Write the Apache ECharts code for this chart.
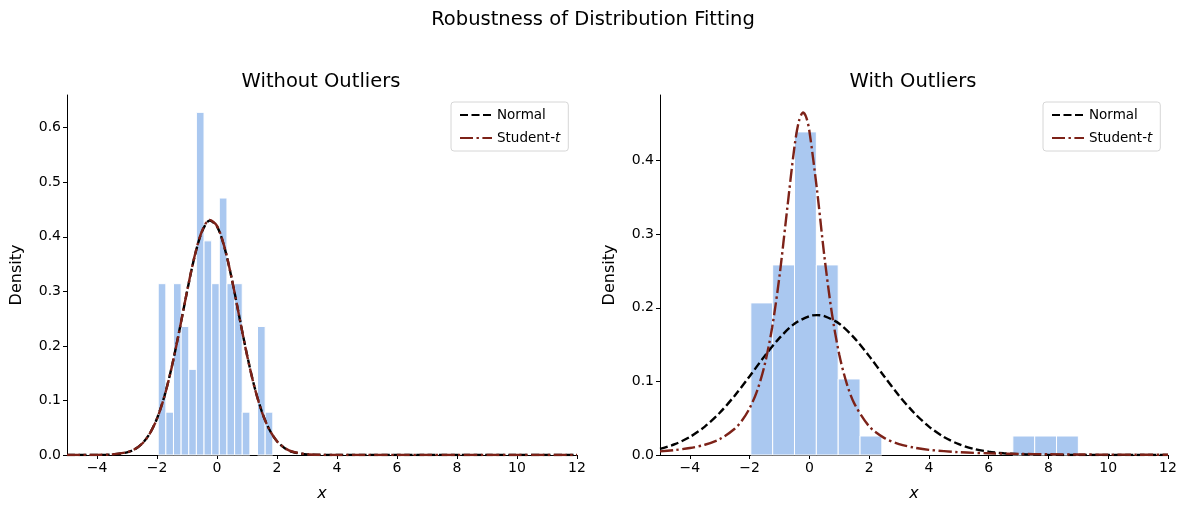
<!DOCTYPE html>
<html>
<head>
<meta charset="utf-8">
<script src="https://cdn.jsdelivr.net/npm/echarts@6/dist/echarts.min.js"></script>
<style>
  html, body { margin: 0; padding: 0; background: #fff; }
  #chart { width: 1186px; height: 513px; }
</style>
</head>
<body>
<div id="chart"></div>
<script>
// histogram bins (edges + density)
var leftEdges = [-1.96, -1.705, -1.451, -1.196, -0.941, -0.687, -0.432, -0.177, 0.077, 0.332, 0.587, 0.841, 1.096, 1.350, 1.605, 1.860];
var leftDensity = [0.3141, 0.0785, 0.3141, 0.2356, 0.1570, 0.6282, 0.3926, 0.3141, 0.4711, 0.3141, 0.3141, 0.0785, 0, 0.2356, 0.0785];
var rightEdges = [-1.96, -1.229, -0.499, 0.232, 0.963, 1.694, 2.424, 3.155, 3.886, 4.616, 5.347, 6.078, 6.808, 7.539, 8.270, 9.000];
var rightDensity = [0.2066, 0.2582, 0.4389, 0.2582, 0.1033, 0.0258, 0, 0, 0, 0, 0, 0, 0.0258, 0.0258, 0.0258];

// fitted curves
var leftCurveX = [-5, -4, -3.5, -3, -2.75, -2.5, -2.25, -2, -1.75, -1.5, -1.25, -1, -0.75, -0.5, -0.25, 0, 0.25, 0.5, 0.75, 1, 1.25, 1.5, 1.75, 2, 2.25, 2.5, 3, 3.5, 4, 5, 6, 7, 8, 9, 10, 11, 12];
var leftNormal = [0, 0.0001, 0.0008, 0.0047, 0.0101, 0.0205, 0.0384, 0.0669, 0.1085, 0.1636, 0.2295, 0.2993, 0.363, 0.4095, 0.4296, 0.4191, 0.3803, 0.3209, 0.2518, 0.1837, 0.1247, 0.0787, 0.0462, 0.0252, 0.0128, 0.006, 0.0011, 0.0001, 0, 0, 0, 0, 0, 0, 0, 0, 0];
var leftStudent = [0.0001, 0.0003, 0.0011, 0.0051, 0.0104, 0.0206, 0.0382, 0.0664, 0.1078, 0.1631, 0.2293, 0.2996, 0.3638, 0.4106, 0.431, 0.4201, 0.381, 0.3211, 0.2516, 0.1831, 0.1241, 0.0783, 0.046, 0.0253, 0.0131, 0.0064, 0.0014, 0.0003, 0.0001, 0, 0, 0, 0, 0, 0, 0, 0];

var rightNormalX = [-5, -4.5, -4, -3.5, -3, -2.5, -2, -1.5, -1, -0.5, 0, 0.25, 0.5, 1, 1.5, 2, 2.5, 3, 3.5, 4, 4.5, 5, 5.5, 6, 6.5, 7, 7.5, 8, 9, 10, 11, 12];
var rightNormal = [0.0083, 0.0147, 0.0245, 0.0386, 0.0574, 0.0806, 0.107, 0.1343, 0.1591, 0.1783, 0.1887, 0.19, 0.1887, 0.1783, 0.1591, 0.1343, 0.107, 0.0806, 0.0574, 0.0386, 0.0245, 0.0147, 0.0083, 0.0045, 0.0023, 0.0011, 0.0005, 0.0002, 0, 0, 0, 0];
var rightStudentX = [-5, -4.5, -4, -3.5, -3, -2.5, -2.25, -2, -1.75, -1.5, -1.25, -1, -0.75, -0.5, -0.35, -0.21, -0.1, 0, 0.25, 0.5, 0.75, 1, 1.25, 1.5, 2, 2.5, 3, 3.5, 4, 5, 6, 7, 8, 9, 10, 11, 12];
var rightStudent = [0.0049, 0.0067, 0.0095, 0.0139, 0.0216, 0.0357, 0.0471, 0.0635, 0.0872, 0.122, 0.1726, 0.2434, 0.3319, 0.4187, 0.4536, 0.4652, 0.458, 0.4398, 0.3615, 0.2702, 0.193, 0.1362, 0.0969, 0.0701, 0.0389, 0.0233, 0.0149, 0.01, 0.007, 0.0038, 0.0023, 0.0015, 0.001, 0.0007, 0.0005, 0.0004, 0.0003];

var xTicks = [-4, -2, 0, 2, 4, 6, 8, 10, 12];
var leftYTicks = [0, 0.1, 0.2, 0.3, 0.4, 0.5, 0.6];
var rightYTicks = [0, 0.1, 0.2, 0.3, 0.4];

var FONT = 'DejaVu Sans';
var NORMAL_DASH = [8, 3.5];
var T_DASH = [13, 3.5, 2.4, 3.5];
var RED = '#7d2218';

function bins(edges, dens) {
  var out = [];
  for (var i = 0; i < dens.length; i++) {
    if (dens[i] > 0) out.push([edges[i], edges[i + 1], dens[i]]);
  }
  return out;
}
function pairs(xs, ys) {
  return xs.map(function (x, i) { return [x, ys[i]]; });
}
function renderBar(params, api) {
  var p0 = api.coord([api.value(0), api.value(2)]);
  var p1 = api.coord([api.value(1), 0]);
  return {
    type: 'rect',
    shape: { x: p0[0], y: p0[1], width: p1[0] - p0[0], height: p1[1] - p0[1] },
    style: { fill: '#aac8f0', stroke: '#ffffff', lineWidth: 1 }
  };
}

function xAxisOf(idx) {
  return {
    type: 'value', gridIndex: idx, min: -5, max: 12,
    name: 'x', nameLocation: 'middle', nameGap: 31,
    nameTextStyle: { fontFamily: FONT, fontSize: 16, fontStyle: 'italic', color: '#000' },
    axisLine: { show: true, onZero: false, lineStyle: { color: '#000', width: 1 } },
    axisTick: { show: true, length: 4, customValues: xTicks, lineStyle: { color: '#000' } },
    axisLabel: { customValues: xTicks, fontFamily: FONT, fontSize: 14, color: '#000', margin: 6,
      formatter: function (v) { return v < 0 ? '\u2212' + Math.abs(v) : String(v); } },
    splitLine: { show: false }
  };
}
function yAxisOf(idx, max, ticks) {
  return {
    type: 'value', gridIndex: idx, min: 0, max: max,
    name: 'Density', nameLocation: 'middle', nameGap: 42, nameRotate: 90,
    nameTextStyle: { fontFamily: FONT, fontSize: 16, color: '#000' },
    axisLine: { show: true, onZero: false, lineStyle: { color: '#000', width: 1 } },
    axisTick: { show: true, length: 4, customValues: ticks, lineStyle: { color: '#000' } },
    axisLabel: { customValues: ticks, fontFamily: FONT, fontSize: 14, color: '#000', margin: 6,
      formatter: function (v) { return v.toFixed(1); } },
    splitLine: { show: false }
  };
}
function legendOf(left) {
  return {
    orient: 'vertical', left: left, top: 102,
    data: ['Normal', 'Student-t'],
    itemWidth: 32, itemHeight: 12, itemGap: 9,
    padding: [6, 8, 6, 8],
    borderColor: '#d6d6d6', borderWidth: 1, borderRadius: 3,
    backgroundColor: 'rgba(255,255,255,0.85)',
    itemStyle: { opacity: 0 },
    textStyle: { fontFamily: FONT, fontSize: 13.5, color: '#000',
      rich: { n: { fontFamily: FONT, fontSize: 13.5 }, i: { fontFamily: FONT, fontSize: 13.5, fontStyle: 'italic' } } },
    formatter: function (name) { return name === 'Student-t' ? '{n|Student-}{i|t}' : name; }
  };
}
function lineSeries(name, idx, data, color, dash) {
  return {
    name: name, type: 'line', xAxisIndex: idx, yAxisIndex: idx,
    data: data, smooth: 0.3, symbol: 'none',
    lineStyle: { color: color, width: 2.4, type: dash },
    itemStyle: { color: color }, z: 3
  };
}

var chart = echarts.init(document.getElementById('chart'));
chart.setOption({
  animation: false,
  title: [
    { text: 'Robustness of Distribution Fitting', left: 'center', top: 5,
      textStyle: { fontFamily: FONT, fontSize: 19.5, fontWeight: 'normal', color: '#000' } },
    { text: 'Without Outliers', left: 316, top: 67, textAlign: 'center',
      textStyle: { fontFamily: FONT, fontSize: 19.5, fontWeight: 'normal', color: '#000' } },
    { text: 'With Outliers', left: 908, top: 67, textAlign: 'center',
      textStyle: { fontFamily: FONT, fontSize: 19.5, fontWeight: 'normal', color: '#000' } }
  ],
  legend: [legendOf(451), legendOf(1043)],
  grid: [
    { left: 67, right: 609, top: 95, bottom: 58 },
    { left: 660, right: 18, top: 95, bottom: 58 }
  ],
  xAxis: [xAxisOf(0), xAxisOf(1)],
  yAxis: [yAxisOf(0, 0.66, leftYTicks), yAxisOf(1, 0.489, rightYTicks)],
  series: [
    { type: 'custom', xAxisIndex: 0, yAxisIndex: 0, renderItem: renderBar,
      encode: { x: [0, 1], y: 2 }, data: bins(leftEdges, leftDensity), z: 1 },
    lineSeries('Normal', 0, pairs(leftCurveX, leftNormal), '#000', NORMAL_DASH),
    lineSeries('Student-t', 0, pairs(leftCurveX, leftStudent), RED, T_DASH),
    { type: 'custom', xAxisIndex: 1, yAxisIndex: 1, renderItem: renderBar,
      encode: { x: [0, 1], y: 2 }, data: bins(rightEdges, rightDensity), z: 1 },
    lineSeries('Normal', 1, pairs(rightNormalX, rightNormal), '#000', NORMAL_DASH),
    lineSeries('Student-t', 1, pairs(rightStudentX, rightStudent), RED, T_DASH)
  ]
});
</script>
</body>
</html>
